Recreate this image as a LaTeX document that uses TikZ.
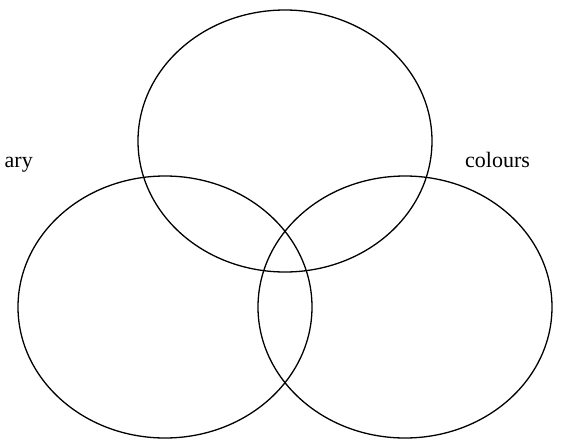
\documentclass[tikz,border=0pt]{standalone}
\usepackage{fontspec}
\setmainfont{Liberation Serif}
\begin{document}
\begin{tikzpicture}[x=1pt,y=-1pt,
  venn/.style={draw=black,line width=1.3pt},
  lbl/.style={font=\fontsize{22}{26}\selectfont,inner sep=0pt}]
\useasboundingbox (0,0) rectangle (574,440);
\draw[venn] (285,141) ellipse [x radius=147, y radius=131];
\draw[venn] (165,307) ellipse [x radius=147, y radius=131];
\draw[venn] (405,307) ellipse [x radius=147, y radius=131];
\node[lbl,anchor=base east] (l1) at (33,167) {ary};
\node[lbl,anchor=base west] (l2) at (465,167) {colours};
\end{tikzpicture}
\end{document}
